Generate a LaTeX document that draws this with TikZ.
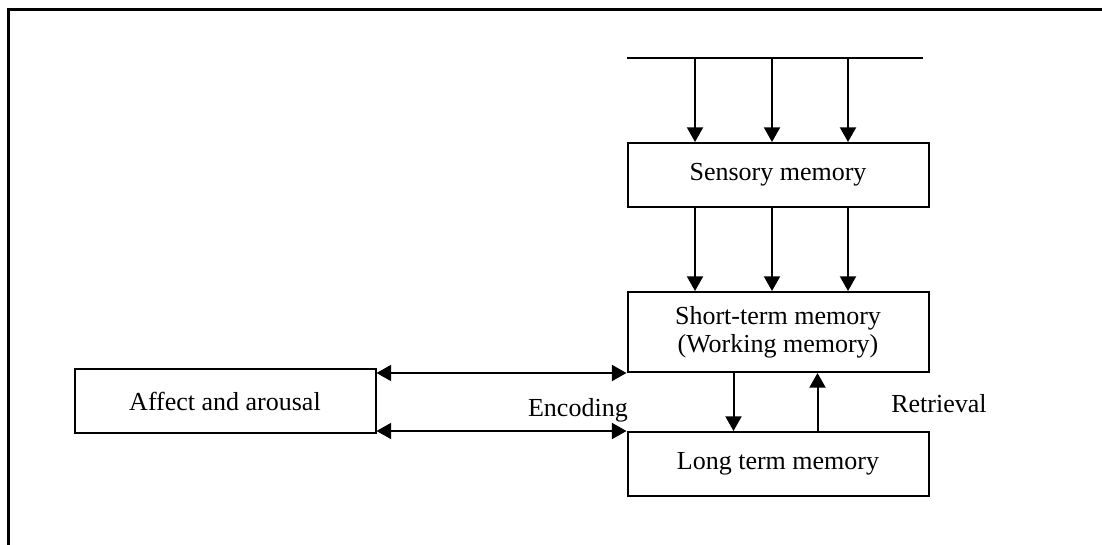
\documentclass[tikz,border=0pt]{standalone}
\usepackage{fontspec}
\setmainfont{Liberation Serif}
\usetikzlibrary{arrows.meta, positioning}
\tikzset{
    memblock/.style={rectangle, draw=black, line width=1.5pt, fill=white, text centered, minimum width=225.75pt, minimum height=48pt, inner sep=0pt, font=\fontsize{19.5}{21}\selectfont},
    arrow/.style={line width=1.5pt, -{Triangle[length=11pt, width=12pt]}},
    twoway/.style={line width=1.5pt, {Triangle[length=11pt, width=12pt]}-{Triangle[length=11pt, width=12pt]}},
    lbl/.style={inner sep=0pt, font=\fontsize{19.5}{21}\selectfont}
}

\begin{document}
\begin{tikzpicture}[x=0.75pt, y=-0.75pt]
    \useasboundingbox (0,0) rectangle (1102,545);
    \draw[line width=2.25pt] (8,545) -- (8,10) -- (1102,10);

    \node (sensory) [memblock] at (778,175) {Sensory memory};
    \node (stm) [memblock, minimum height=60pt, align=center, below=62.25pt of sensory] {Short-term memory\\(Working memory)};
    \node (ltm) [memblock, below=43.5pt of stm] {Long term memory};
    \node (affect) [memblock] at (225,401) {Affect and arousal};

    % input line above sensory memory
    \coordinate (inleft) at (627,58);
    \coordinate (inright) at (923,58);
    \draw[line width=1.5pt] (inleft) -- (inright);
    \foreach \x [count=\i] in {695,772,848} {
        \coordinate (in\i) at (\x,58);
        \draw[arrow] (in\i) -- (in\i |- sensory.north);
        \draw[arrow] (in\i |- sensory.south) -- (in\i |- stm.north);
    }

    \draw[twoway] (stm.south west -| affect.east) -- (stm.south west);
    \draw[twoway] (ltm.north west -| affect.east) -- (ltm.north west);
    \draw[arrow] ([xshift=80.25pt]stm.south west) -- ([xshift=80.25pt]ltm.north west);
    \draw[arrow] ([xshift=143.25pt]ltm.north west) -- ([xshift=143.25pt]stm.south west);

    \node (encoding) [lbl, anchor=base east] at (628,416) {Encoding};
    \node (retrieval) [lbl, anchor=base west] at (891,412) {Retrieval};
\end{tikzpicture}
\end{document}
